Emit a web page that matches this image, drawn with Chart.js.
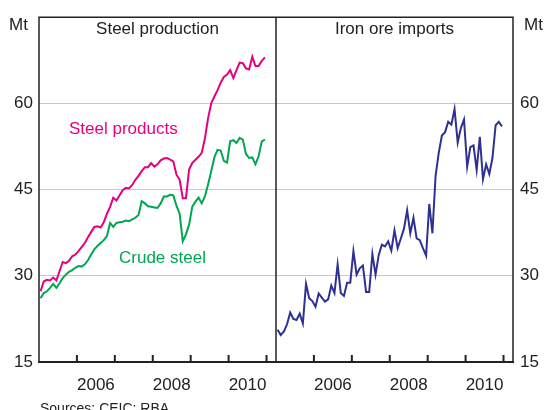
<!DOCTYPE html>
<html>
<head>
<meta charset="utf-8">
<script src="https://cdn.jsdelivr.net/npm/chart.js@4/dist/chart.umd.min.js"></script>
<style>
  html, body { margin: 0; padding: 0; background: #fff; }
  #chart { display: block; }
</style>
</head>
<body>
<canvas id="chart" width="545" height="410"></canvas>
<script>
// monthly data, Jan 2005 - Dec 2010 (Mt)
var startYear = 2005;
var steelProducts = [27.3, 29.0, 29.3, 29.2, 29.7, 29.2, 30.8, 32.4, 32.2, 32.6, 33.4, 33.7,
  34.3, 35.0, 35.7, 36.7, 37.6, 38.5, 38.6, 38.4, 39.3, 40.8, 42.0, 43.6,
  43.1, 44.0, 44.9, 45.3, 45.2, 45.8, 46.7, 47.4, 48.2, 48.9, 48.9, 49.6,
  49.0, 49.4, 50.1, 50.4, 50.5, 50.2, 49.9, 47.6, 46.7, 43.5, 43.5, 48.5,
  49.6, 50.2, 50.7, 51.4, 53.9, 57.4, 60.0, 61.2, 62.3, 63.6, 64.6, 65.0,
  65.8, 64.4, 65.8, 67.1, 67.0, 66.1, 65.9, 68.1, 66.5, 66.5, 67.4, 68.0];
var crudeSteel = [26.1, 27.0, 27.3, 27.9, 28.6, 27.9, 28.7, 29.6, 30.2, 30.7, 31.0, 31.4,
  31.7, 31.6, 32.0, 32.7, 33.7, 34.6, 35.2, 35.7, 36.2, 36.9, 39.2, 38.5,
  39.2, 39.3, 39.4, 39.6, 39.5, 39.8, 40.1, 40.6, 43.0, 42.6, 42.1, 42.0,
  41.9, 41.8, 42.6, 43.8, 43.8, 44.1, 44.0, 42.2, 40.8, 36.0, 37.2, 38.9,
  42.0, 42.9, 43.6, 42.6, 43.8, 45.9, 48.2, 50.6, 51.9, 51.8, 50.0, 49.7,
  53.4, 53.6, 53.1, 54.0, 53.7, 51.2, 50.5, 50.6, 49.4, 50.8, 53.4, 53.7];
var ironOre = [20.6, 19.7, 20.3, 21.6, 23.6, 22.5, 22.3, 23.4, 21.7, 28.6, 26.1, 25.6,
  24.6, 26.9, 26.2, 25.5, 25.9, 28.3, 27.0, 32.0, 27.0, 26.5, 28.8, 28.8,
  34.3, 30.2, 31.3, 31.8, 27.2, 27.2, 33.8, 30.2, 33.6, 35.4, 35.1, 36.0,
  34.4, 37.9, 34.8, 36.5, 38.2, 41.4, 37.4, 40.1, 36.5, 36.2, 34.8, 33.5,
  42.5, 37.4, 47.4, 51.4, 54.4, 55.0, 56.8, 56.3, 59.0, 53.2, 55.7, 57.2,
  49.0, 52.4, 52.7, 48.4, 54.2, 46.8, 49.4, 47.7, 50.5, 56.2, 56.8, 56.0];
var yearLabels = ['2006', '2008', '2010'];
var yTicks = [15, 30, 45, 60, 75];

var pink = '#e6007e';
var green = '#00a651';
var navy = '#2e3192';
var font = 'Liberation Sans, Arial, sans-serif';

function toPoints(vals) {
  return vals.map(function(v, i) {
    return { x: startYear + (i + 0.5) / 12, y: v };
  });
}

function xAxis() {
  return {
    type: 'linear',
    position: 'bottom',
    stack: 'panels',
    min: 2005,
    max: 2011.25,
    grid: { display: false },
    border: { display: false },
    ticks: {
      autoSkip: false,
      maxRotation: 0,
      padding: 5,
      color: '#222',
      font: { family: font, size: 17 },
      callback: function(value) { return String(Math.floor(value)); }
    },
    afterBuildTicks: function(scale) {
      scale.ticks = yearLabels.map(function(y) { return { value: Number(y) + 0.5 }; });
    },
    afterFit: function(scale) { scale.height = 48; }
  };
}

function yAxis(pos, width, showGrid) {
  return {
    type: 'linear',
    position: pos,
    min: 15,
    max: 75,
    afterBuildTicks: function(scale) {
      scale.ticks = yTicks.map(function(v) { return { value: v }; });
    },
    grid: { display: showGrid, color: '#c8c8c8', lineWidth: 1, drawTicks: false },
    border: { display: false },
    ticks: {
      padding: pos === 'left' ? 6 : 7,
      color: '#222',
      font: { family: font, size: 17 },
      callback: function(value) { return value === 75 ? '' : value; }
    },
    afterFit: function(scale) { scale.width = width; }
  };
}

// frame, year ticks and text
var decorations = {
  id: 'decorations',
  afterDraw: function(chart) {
    var ctx = chart.ctx;
    var a = chart.chartArea;
    var x1 = chart.scales.x;
    var x2 = chart.scales.x2;
    var mid = x2.left;
    ctx.save();
    ctx.strokeStyle = '#222';
    ctx.lineWidth = 1.5;
    ctx.beginPath();
    ctx.moveTo(a.left, a.bottom);
    ctx.lineTo(a.left, a.top);
    ctx.lineTo(a.right, a.top);
    ctx.lineTo(a.right, a.bottom);
    ctx.moveTo(mid, a.top);
    ctx.lineTo(mid, a.bottom);
    ctx.stroke();
    ctx.lineWidth = 2;
    ctx.beginPath();
    ctx.moveTo(a.left - 1, a.bottom);
    ctx.lineTo(a.right + 1, a.bottom);
    [x1, x2].forEach(function(sc) {
      for (var yr = 2006; yr <= 2011; yr++) {
        var px = sc.getPixelForValue(yr);
        ctx.moveTo(px, a.bottom);
        ctx.lineTo(px, a.bottom - 7);
      }
    });
    ctx.stroke();

    ctx.fillStyle = '#222';
    ctx.font = '17px ' + font;
    ctx.textBaseline = 'alphabetic';
    ctx.textAlign = 'center';
    ctx.fillText('Steel production', (a.left + mid) / 2, 34);
    ctx.fillText('Iron ore imports', (mid + a.right) / 2, 34);
    ctx.textAlign = 'right';
    ctx.fillText('Mt', a.left - 11, 30);
    ctx.textAlign = 'left';
    ctx.fillText('Mt', a.right + 11, 30);

    ctx.fillStyle = pink;
    ctx.fillText('Steel products', 69, 134);
    ctx.fillStyle = green;
    ctx.fillText('Crude steel', 119, 263);

    ctx.fillStyle = '#222';
    ctx.font = '14px ' + font;
    ctx.fillText('Sources: CEIC; RBA', 40, 413);
    ctx.restore();
  }
};

var ctx = document.getElementById('chart').getContext('2d');
var chart = new Chart(ctx, {
  type: 'line',
  data: {
    datasets: [
      { label: 'Steel products', data: toPoints(steelProducts), borderColor: pink, xAxisID: 'x', yAxisID: 'y' },
      { label: 'Crude steel', data: toPoints(crudeSteel), borderColor: green, xAxisID: 'x', yAxisID: 'y' },
      { label: 'Iron ore imports', data: toPoints(ironOre), borderColor: navy, xAxisID: 'x2', yAxisID: 'y' }
    ]
  },
  options: {
    responsive: false,
    animation: false,
    layout: { padding: { top: 13, left: 0, right: 0, bottom: 0 } },
    elements: {
      point: { radius: 0 },
      line: { borderWidth: 2, tension: 0 }
    },
    plugins: {
      legend: { display: false },
      tooltip: { enabled: false }
    },
    scales: {
      x: xAxis(),
      x2: xAxis(),
      y: yAxis('left', 39, true),
      y2: yAxis('right', 32, false)
    }
  },
  plugins: [decorations]
});
</script>
</body>
</html>
